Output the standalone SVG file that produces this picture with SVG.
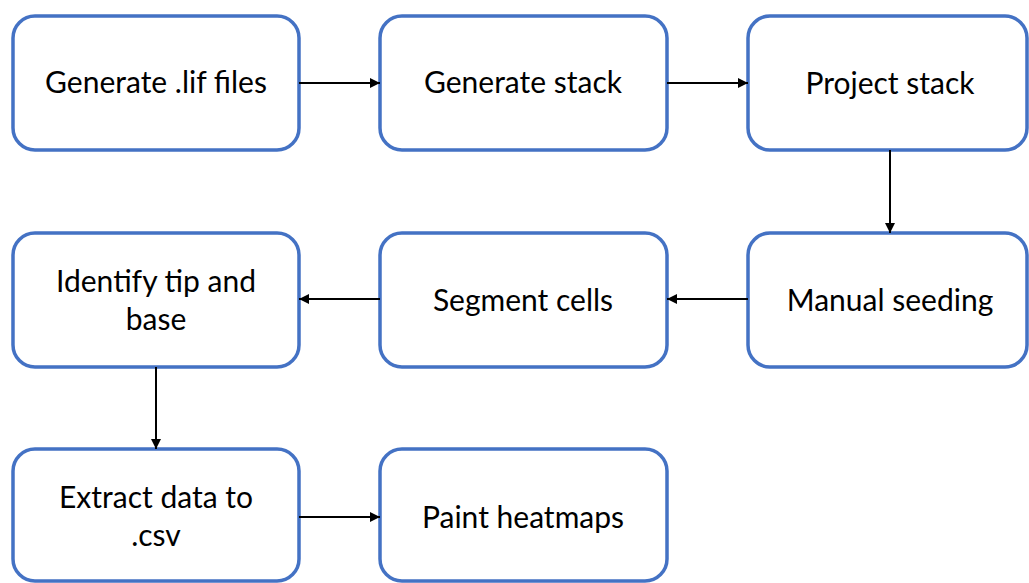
<svg xmlns="http://www.w3.org/2000/svg" width="1029" height="583" viewBox="0 0 1029 583">
<defs>
<marker id="ah" viewBox="0 0 10 10" refX="10" refY="5" markerWidth="11" markerHeight="10" orient="auto" markerUnits="userSpaceOnUse">
<path d="M0,0 L10,5 L0,10 z" fill="#000"/>
</marker>
<style>
.box{fill:#fff;stroke:#4472C4;stroke-width:3.5}
.lbl{font-family:Lato,"Open Sans","Liberation Sans",sans-serif;font-size:30px;fill:#000;text-anchor:middle}
.con{stroke:#000;stroke-width:2;fill:none}
</style>
</defs>
<rect width="1029" height="583" fill="#fff"/>
<g id="n1"><rect class="box" x="13" y="16" width="286" height="134" rx="22"/><text class="lbl" x="156" y="93">Generate .lif files</text></g>
<g id="n2"><rect class="box" x="380" y="16" width="287" height="134" rx="22"/><text class="lbl" x="523" y="93">Generate stack</text></g>
<g id="n3"><rect class="box" x="748" y="16" width="279" height="134" rx="22"/><text class="lbl" x="890" y="94">Project stack</text></g>
<g id="n4"><rect class="box" x="748" y="233" width="279" height="134" rx="22"/><text class="lbl" x="890" y="311">Manual seeding</text></g>
<g id="n5"><rect class="box" x="380" y="233" width="287" height="134" rx="22"/><text class="lbl" x="523" y="311">Segment cells</text></g>
<g id="n6"><rect class="box" x="13" y="233" width="286" height="134" rx="22"/><text class="lbl" x="156" y="292">Identify tip and</text><text class="lbl" x="156" y="330">base</text></g>
<g id="n7"><rect class="box" x="13" y="449" width="286" height="132" rx="22"/><text class="lbl" x="156" y="508">Extract data to</text><text class="lbl" x="156" y="546">.csv</text></g>
<g id="n8"><rect class="box" x="380" y="449" width="287" height="132" rx="22"/><text class="lbl" x="523" y="528">Paint heatmaps</text></g>
<g id="connectors">
<line class="con" x1="299" y1="83" x2="380" y2="83" marker-end="url(#ah)"/>
<line class="con" x1="667" y1="83" x2="748" y2="83" marker-end="url(#ah)"/>
<line class="con" x1="890" y1="150" x2="890" y2="233" marker-end="url(#ah)"/>
<line class="con" x1="748" y1="299" x2="667" y2="299" marker-end="url(#ah)"/>
<line class="con" x1="380" y1="299" x2="299" y2="299" marker-end="url(#ah)"/>
<line class="con" x1="156" y1="367" x2="156" y2="449" marker-end="url(#ah)"/>
<line class="con" x1="299" y1="517" x2="380" y2="517" marker-end="url(#ah)"/>
</g>
</svg>
